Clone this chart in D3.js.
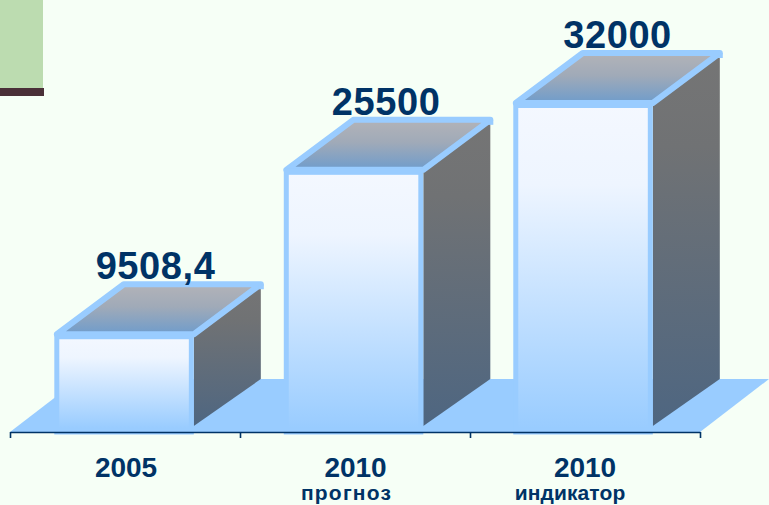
<!DOCTYPE html>
<html><head><meta charset="utf-8">
<script src="https://cdn.jsdelivr.net/npm/d3@7/dist/d3.min.js"></script>
<style>html,body{margin:0;padding:0;background:#f6fff6}svg{display:block}text{font-family:"Liberation Sans",Arial,sans-serif;font-weight:bold;fill:#003366}</style>
</head><body><svg id="c" width="769" height="505"></svg>
<script>
const categories = ["2005", "2010", "2010 "];
const subLabels = ["", "прогноз", "индикатор"];
const values = [9508.4, 25500, 32000];
const valueLabels = ["9508,4", "25500", "32000"];

const DX = 67, DY = 50;
const svg = d3.select("#c");
const x = d3.scaleBand().domain(categories).range([8.4, 698.7]).paddingInner(0.392).paddingOuter(0.2);
const y = d3.scaleLinear().domain([0, 32000]).range([432, 103]);
const tickScale = d3.scaleLinear().domain([0, 3]).range([10, 700]);
const poly = p => p.map(d => d.join(",")).join(" ");

const defs = svg.append("defs");
function grad(id, stops, y1, y2) {
  const g = defs.append("linearGradient").attr("id", id).attr("gradientUnits", "userSpaceOnUse")
    .attr("x1", 0).attr("x2", 0).attr("y1", y1).attr("y2", y2);
  stops.forEach(([o, c]) => g.append("stop").attr("offset", o).attr("stop-color", c));
}
values.forEach((v, i) => {
  const t = y(v);
  grad("front" + i, [[0, "#f4f8ff"], [0.25, "#eef5ff"], [1, "#99ccff"]], t, 428);
  grad("side" + i, [[0, "#757575"], [0.25, "#707274"], [1, "#4e6681"]], t - DY, 426);
  grad("top" + i, [[0, "#b2b3b8"], [0.45, "#a0aab8"], [1, "#6f9ccb"]], t - DY, t);
});

// page decoration
svg.append("rect").attr("x", 0).attr("y", 0).attr("width", 43).attr("height", 88).attr("fill", "#bcdcb0");
svg.append("rect").attr("x", 0).attr("y", 88).attr("width", 44).attr("height", 8).attr("fill", "#4a3038");

// floor
const x0 = tickScale(0), x3 = tickScale(3), yb = y(0);
svg.append("polygon").attr("fill", "#99ccff")
  .attr("points", poly([[x0, yb], [x3, yb], [x3 + 69, yb - 53], [x0 + 69, yb - 53]]));

// bars
const bars = svg.selectAll("g.bar").data(values).join("g").attr("class", "bar");
bars.each(function (v, i) {
  const g = d3.select(this), l = x(categories[i]), r = l + x.bandwidth(), t = y(v), b = yb;
  g.append("polygon").attr("fill", `url(#side${i})`)
    .attr("points", poly([[r, t], [r + DX, t - DY], [r + DX, b - 53], [r, b - 6]]));
  g.append("polygon").attr("fill", `url(#top${i})`)
    .attr("stroke", "#99ccff").attr("stroke-width", 6).attr("stroke-linejoin", "round")
    .attr("points", poly([[l + 2.5, t], [l + 2.5 + DX, t - DY], [r + DX, t - DY], [r, t]]));
  g.append("rect").attr("x", r + DX - 2).attr("y", t - DY).attr("width", 5).attr("height", 5).attr("fill", "#99ccff");
  g.append("rect").attr("x", l).attr("y", t - 1).attr("width", r - l).attr("height", b + 3.5 - t)
    .attr("fill", "#99ccff");
  g.append("rect").attr("x", l + 5).attr("y", t + 5).attr("width", r - l - 10).attr("height", b - t - 3)
    .attr("fill", `url(#front${i})`);
});

// axis
const axis = d3.axisBottom(tickScale).tickValues([0, 1, 2, 3]).tickSize(6).tickSizeOuter(0).tickFormat("");
const ax = svg.append("g").attr("transform", `translate(0,${yb})`).call(axis);
ax.selectAll("path,line").attr("stroke", "#003366").attr("stroke-width", 1.6);

// labels
svg.selectAll("text.val").data(values).join("text").attr("class", "val")
  .attr("x", (d, i) => x(categories[i]) + x.bandwidth() / 2 + [31.5, 32.5, 34.5][i])
  .attr("y", d => y(d) - 55)
  .attr("text-anchor", "middle").attr("font-size", 38).attr("letter-spacing", 0.6)
  .text((d, i) => valueLabels[i]);
svg.selectAll("text.cat").data(categories).join("text").attr("class", "cat")
  .attr("x", d => x(d) + x.bandwidth() / 2 + 2)
  .attr("y", 477).attr("text-anchor", "middle").attr("font-size", 28)
  .text(d => d.trim());
svg.selectAll("text.sub").data(subLabels).join("text").attr("class", "sub")
  .attr("x", (d, i) => x(categories[i]) + x.bandwidth() / 2 + [0, -7, -13][i])
  .attr("y", 500).attr("text-anchor", "middle").attr("font-size", 21)
  .attr("letter-spacing", (d, i) => [0, 1.2, 0.1][i])
  .text(d => d);
</script></body></html>
